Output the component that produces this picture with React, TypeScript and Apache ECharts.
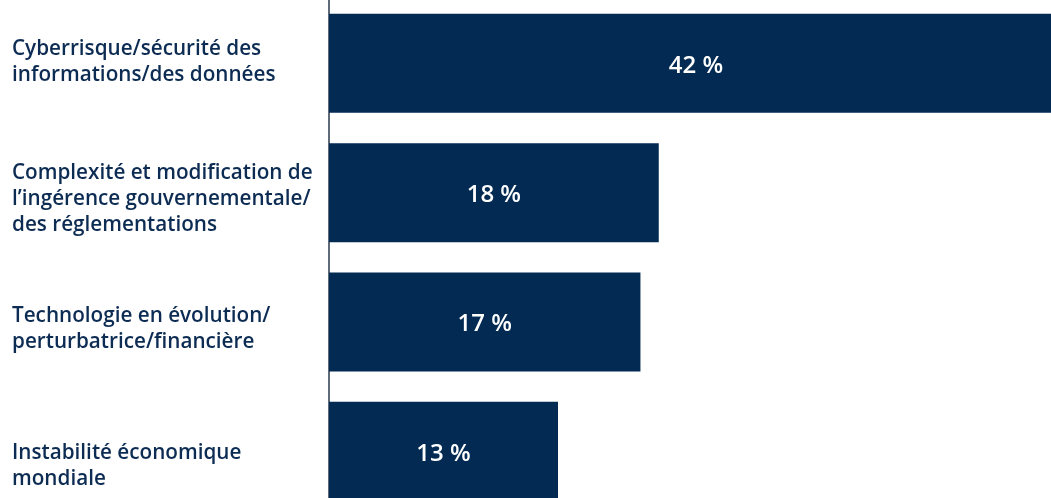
import React, { useEffect, useRef } from "react";
import * as echarts from "echarts";

const categories = [
  "Cyberrisque/sécurité des\ninformations/des données",
  "Complexité et modification de\nl’ingérence gouvernementale/\ndes réglementations",
  "Technologie en évolution/\nperturbatrice/financière",
  "Instabilité économique\nmondiale",
];
const values = [42, 18, 17, 12.5];
const valueLabels = ["42 %", "18 %", "17 %", "13 %"];

const NAVY = "#022a53";
const TEXT = "#0d2c53";
const FONT = "'Open Sans', 'Noto Sans', sans-serif";

// vertical nudges of the category labels (spacer heights: [before, after])
const spacers: [number, number][] = [[0, 6], [8, 0], [10, 0], [26, 0]];

export default function App() {
  const ref = useRef<HTMLDivElement>(null);
  useEffect(() => {
    if (!ref.current) return;
    const chart = echarts.init(ref.current, null, { renderer: "svg" });
    const rich: Record<string, any> = {
      t: {
        color: TEXT,
        fontFamily: FONT,
        fontWeight: 600,
        fontSize: 20.7,
        lineHeight: 26,
        align: "left",
      },
    };
    spacers.forEach(([b, a], i) => {
      rich["b" + i] = { fontSize: 1, lineHeight: b || 1, align: "left" };
      rich["a" + i] = { fontSize: 1, lineHeight: a || 1, align: "left" };
    });
    chart.setOption({
      animation: false,
      grid: {
        left: 329,
        top: -1.3,
        width: 916,
        height: 517.2,
        containLabel: false,
        outerBoundsMode: "none",
      },
      xAxis: {
        type: "value",
        min: 0,
        max: 50,
        show: false,
      },
      yAxis: {
        type: "category",
        inverse: true,
        data: categories,
        axisLine: { show: true, lineStyle: { color: "#2b3a4e", width: 1.5 } },
        axisTick: { show: false },
        axisLabel: {
          align: "left",
          margin: 317,
          color: TEXT,
          fontFamily: FONT,
          fontWeight: 600,
          fontSize: 20.7,
          lineHeight: 26,
          formatter: (value: string, index: number) => {
            const [b, a] = spacers[index] || [0, 0];
            const lines = value.split("\n").map((l) => `{t|${l}}`);
            if (b) lines.unshift(`{b${index}|\u00a0}`);
            if (a) lines.push(`{a${index}|\u00a0}`);
            return lines.join("\n");
          },
          rich,
        },
      },
      series: [
        {
          type: "bar",
          barWidth: 99,
          itemStyle: { color: NAVY },
          label: {
            show: true,
            position: "inside",
            color: "#ffffff",
            fontFamily: FONT,
            fontWeight: 600,
            fontSize: 24,
            formatter: (p: any) => valueLabels[p.dataIndex],
          },
          data: values.map((v, i) =>
            i === 0
              ? { value: v, label: { position: [367, "50%"], align: "center", verticalAlign: "middle" } }
              : v
          ),
        },
      ],
    });
    return () => chart.dispose();
  }, []);
  return (
    <div
      ref={ref}
      style={{ position: "fixed", left: 0, top: 0, width: 1051, height: 498 }}
    />
  );
}
